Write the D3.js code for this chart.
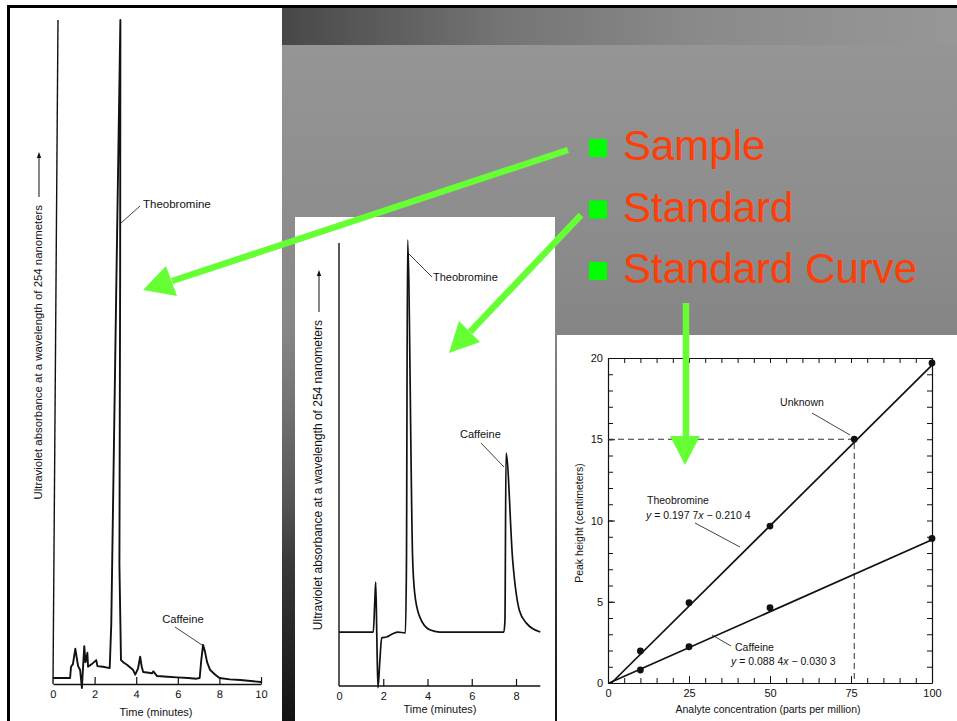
<!DOCTYPE html>
<html>
<head>
<meta charset="utf-8">
<script src="https://cdn.jsdelivr.net/npm/d3@7"></script>
<style>
    body { margin: 0; background: #fff; }
    svg { display: block; }
    text { font-family: "Liberation Sans", Arial, sans-serif; }
</style>
</head>
<body>
<div id="slide"></div>
<script>

// sample chromatogram (left panel), time in minutes, absorbance in relative units
var sampleTime = [0, 0.82, 0.86, 0.95, 1.06, 1.2, 1.3, 1.39, 1.44, 1.49, 1.55, 1.59, 1.64, 1.68, 1.86, 2.07, 2.13, 2.4, 2.72,
    2.78, 2.9, 3.0, 3.08, 3.15, 3.26, 3.4, 3.55, 3.85, 3.95, 4.08, 4.18, 4.26, 4.33, 4.6, 4.75, 4.82, 5.0, 5.5, 5.95, 6.5, 6.9,
    7.05, 7.12, 7.2, 7.3, 7.4, 7.55, 7.8, 8.0, 8.5, 9.0, 10.0];
var sampleAbs = [0.9, 0.9, 2.6, 3.0, 5.3, 2.7, 2.1, -0.6, 2.6, 5.7, 3.3, 3.6, 4.7, 2.6, 3.0, 3.6, 2.7, 2.6, 2.4,
    9.0, 60, 100, 62, 18, 3.6, 3.2, 2.9, 2.1, 1.4, 2.3, 4.1, 2.6, 1.8, 1.7, 1.6, 1.9, 1.2, 1.1, 1.0, 0.9, 0.8,
    0.9, 3.6, 5.9, 4.8, 3.3, 2.1, 1.4, 0.9, 0.7, 0.6, 0.3];
var sampleTicks = [0, 2, 4, 6, 8, 10];

// standard chromatogram (middle panel)
var standardTime = [0, 1.55, 1.62, 1.66, 1.71, 1.76, 1.85, 1.93, 2.15, 2.43, 2.66, 3.0, 3.05, 3.1, 3.33, 3.42, 3.65, 4.1, 4.55,
    7.45, 7.5, 7.55, 7.85, 8.15, 8.47, 9.1];
var standardAbs = [12.1, 12.1, 19.3, 23.3, 11.0, -0.4, 6.0, 10.8, 11.0, 11.7, 12.1, 11.9, 28.2, 100, 28.2, 20.9, 15.5, 12.6, 12.1,
    12.1, 14.6, 52.2, 28.2, 17.0, 14.1, 12.1];
var standardTicks = [0, 2, 4, 6, 8];

// standard curve (right panel), concentration in ppm, peak height in cm
var standardConc = [10, 25, 50, 100];
var theobromineHeight = [1.97, 4.94, 9.66, 19.7];
var caffeineHeight = [0.8, 2.23, 4.63, 8.9];
var theobromineFit = [0.1977, -0.2104];
var caffeineFit = [0.0884, -0.0303];
var unknownPoint = [76, 15];
var concTicks = [0, 25, 50, 75, 100];
var heightTicks = [0, 5, 10, 15, 20];

// slide bullets
var bullets = ["Sample", "Standard", "Standard Curve"];

var W = 957, H = 721;

var svg = d3.select("#slide")
    .append("svg")
    .attr("width", W)
    .attr("height", H);

var defs = svg.append("defs");

var bg = defs.append("linearGradient")
    .attr("id", "bgGrad")
    .attr("gradientUnits", "userSpaceOnUse")
    .attr("x1", 0).attr("y1", 45).attr("x2", 0).attr("y2", 721);
[[0, "#959595"], [0.254, "#8d8d8d"], [0.43, "#858585"], [0.525, "#747474"], [0.673, "#565656"], [0.762, "#3a3a3a"], [1, "#121212"]]
    .forEach(function (s) { bg.append("stop").attr("offset", s[0]).attr("stop-color", s[1]); });

var bar = defs.append("linearGradient")
    .attr("id", "barGrad")
    .attr("gradientUnits", "userSpaceOnUse")
    .attr("x1", 280).attr("y1", 0).attr("x2", 957).attr("y2", 0);
[[0, "#474747"], [0.325, "#747474"], [0.62, "#8a8a8a"], [1, "#979797"]]
    .forEach(function (s) { bar.append("stop").attr("offset", s[0]).attr("stop-color", s[1]); });

// slide frame and panels
svg.append("rect").attr("x", 7).attr("y", 5).attr("width", W - 7).attr("height", H - 5).attr("fill", "#000");
svg.append("rect").attr("x", 280).attr("y", 45).attr("width", W - 280).attr("height", H - 45).attr("fill", "url(#bgGrad)");
svg.append("rect").attr("x", 280).attr("y", 8).attr("width", W - 280).attr("height", 37).attr("fill", "url(#barGrad)");
svg.append("rect").attr("x", 10).attr("y", 8).attr("width", 272).attr("height", H - 8).attr("fill", "#fff");
svg.append("rect").attr("x", 295).attr("y", 217).attr("width", 260).attr("height", H - 217).attr("fill", "#fff");
svg.append("rect").attr("x", 557).attr("y", 335).attr("width", W - 557).attr("height", H - 335).attr("fill", "#fff");

var ink = "#111";

function yLabel(xb, yEnd, arrowTop, size) {
    // rotated axis title with its little arrow
    svg.append("text")
        .attr("transform", "translate(" + xb + "," + yEnd + ") rotate(-90)")
        .attr("text-anchor", "end")
        .attr("font-size", size)
        .attr("fill", ink)
        .text("Ultraviolet absorbance at a wavelength of 254 nanometers");
    var ax = xb - 3;
    svg.append("line")
        .attr("x1", ax).attr("y1", yEnd - 8)
        .attr("x2", ax).attr("y2", arrowTop + 4)
        .attr("stroke", ink).attr("stroke-width", 1);
    svg.append("path")
        .attr("d", "M" + ax + "," + arrowTop + "L" + (ax - 2.2) + "," + (arrowTop + 6) + "L" + (ax + 2.2) + "," + (arrowTop + 6) + "Z")
        .attr("fill", ink);
}

function leader(x1, y1, x2, y2) {
    svg.append("line")
        .attr("x1", x1).attr("y1", y1).attr("x2", x2).attr("y2", y2)
        .attr("stroke", ink).attr("stroke-width", 0.8);
}

function label(x, y, txt, size, anchor) {
    return svg.append("text")
        .attr("x", x).attr("y", y)
        .attr("font-size", size)
        .attr("text-anchor", anchor || "start")
        .attr("fill", ink)
        .text(txt);
}

function styleAxis(g) {
    g.select(".domain").attr("stroke", ink).attr("stroke-width", 1.4);
    g.selectAll(".tick line").attr("stroke", ink).attr("stroke-width", 1.2);
    g.selectAll(".tick text").attr("fill", ink).attr("font-size", 11)
        .attr("font-family", "'Liberation Sans', Arial, sans-serif");
}

// ---------- left: sample chromatogram ----------
var xL = d3.scaleLinear().domain([0, 10]).range([53, 261]);
var yL = d3.scaleLinear().domain([0, 100]).range([684, 20]);

// the scanned figure leans a little to the right
var gL = svg.append("g")
    .attr("transform", "translate(0,684) skewX(-0.43) translate(0,-684)");

var axL = gL.append("g")
    .attr("transform", "translate(0,684)")
    .call(d3.axisBottom(xL).tickValues(sampleTicks).tickSize(-7).tickSizeOuter(0).tickPadding(6));
styleAxis(axL);
axL.selectAll(".tick").filter(function (d) { return d === 0; }).select("line").remove();

gL.append("line")
    .attr("x1", xL(0)).attr("y1", yL(0))
    .attr("x2", xL(0)).attr("y2", yL(100))
    .attr("stroke", ink).attr("stroke-width", 1.4);

gL.append("path")
    .datum(d3.zip(sampleTime, sampleAbs))
    .attr("fill", "none")
    .attr("stroke", ink)
    .attr("stroke-width", 1.9)
    .attr("stroke-linejoin", "round")
    .attr("d", d3.line()
        .x(function (d) { return xL(d[0]); })
        .y(function (d) { return yL(d[1]); }));

label(156, 716, "Time (minutes)", 11, "middle");
yLabel(42, 205, 152, 11.4);
label(143, 208, "Theobromine", 11.5);
leader(140, 206, 121, 223);
label(183, 623, "Caffeine", 11.2, "middle");
leader(175, 627, 202, 645);

// ---------- middle: standard chromatogram ----------
var xM = d3.scaleLinear().domain([0, 8]).range([339, 516]);
var yM = d3.scaleLinear().domain([0, 100]).range([686, 240]);

var axM = svg.append("g")
    .attr("transform", "translate(0,686)")
    .call(d3.axisBottom(xM).tickValues(standardTicks).tickSize(-7).tickSizeOuter(0).tickPadding(6));
styleAxis(axM);
axM.select(".domain").attr("d", "M" + xM(0) + ",0H" + xM(9.1));
axM.selectAll(".tick").filter(function (d) { return d === 0; }).select("line").remove();

svg.append("line")
    .attr("x1", xM(0)).attr("y1", yM(0))
    .attr("x2", xM(0)).attr("y2", yM(99.3))
    .attr("stroke", ink).attr("stroke-width", 1.4);

svg.append("path")
    .datum(d3.zip(standardTime, standardAbs))
    .attr("fill", "none")
    .attr("stroke", ink)
    .attr("stroke-width", 1.7)
    .attr("stroke-linejoin", "round")
    .attr("d", d3.line()
        .x(function (d) { return xM(d[0]); })
        .y(function (d) { return yM(d[1]); })
        .curve(d3.curveMonotoneX));

label(440, 713, "Time (minutes)", 11, "middle");
yLabel(322, 320, 270, 12);
label(433, 281, "Theobromine", 11);
leader(432, 277, 408, 253);
label(460, 438, "Caffeine", 11);
leader(481, 443, 504, 467);

// ---------- right: standard curve ----------
var xR = d3.scaleLinear().domain([0, 100]).range([608, 932]);
var yR = d3.scaleLinear().domain([0, 20]).range([683, 358]);

function minorAxis(axis, tr, n, size) {
    var g = svg.append("g")
        .attr("transform", tr)
        .call(axis.ticks(n).tickSize(size).tickSizeOuter(0).tickFormat(""));
    g.select(".domain").attr("stroke", ink).attr("stroke-width", 1.2);
    g.selectAll(".tick line").attr("stroke", ink).attr("stroke-width", 1);
    return g;
}

minorAxis(d3.axisLeft(yR), "translate(" + xR(0) + ",0)", 20, -5);
minorAxis(d3.axisRight(yR), "translate(" + xR(100) + ",0)", 20, -5);
minorAxis(d3.axisBottom(xR), "translate(0," + yR(0) + ")", 20, -5);
minorAxis(d3.axisTop(xR), "translate(0," + yR(20) + ")", 20, -5);

var labY = svg.append("g")
    .attr("transform", "translate(" + xR(0) + ",0)")
    .call(d3.axisLeft(yR).tickValues(heightTicks).tickSize(-7).tickPadding(5));
styleAxis(labY);
labY.select(".domain").remove();
labY.selectAll(".tick line").attr("stroke-width", 1);

var labX = svg.append("g")
    .attr("transform", "translate(0," + yR(0) + ")")
    .call(d3.axisBottom(xR).tickValues(concTicks).tickSize(-7).tickPadding(6));
styleAxis(labX);
labX.select(".domain").remove();
labX.selectAll(".tick line").attr("stroke-width", 1);

// unknown read-off lines
svg.append("path")
    .attr("d", "M" + xR(0) + "," + yR(unknownPoint[1]) + "H" + xR(unknownPoint[0]) + "V" + yR(0))
    .attr("fill", "none")
    .attr("stroke", "#333")
    .attr("stroke-width", 1)
    .attr("stroke-dasharray", "6,4");

function fitLine(fit) {
    var x0 = -fit[1] / fit[0];
    svg.append("line")
        .attr("x1", xR(x0)).attr("y1", yR(0))
        .attr("x2", xR(100)).attr("y2", yR(fit[0] * 100 + fit[1]))
        .attr("stroke", ink).attr("stroke-width", 1.7);
}
fitLine(theobromineFit);
fitLine(caffeineFit);

function dots(values) {
    svg.append("g")
        .selectAll("circle")
        .data(d3.zip(standardConc, values))
        .join("circle")
        .attr("cx", function (d) { return xR(d[0]); })
        .attr("cy", function (d) { return yR(d[1]); })
        .attr("r", 3.4)
        .attr("fill", ink);
}
dots(theobromineHeight);
dots(caffeineHeight);

svg.append("circle")
    .attr("cx", xR(unknownPoint[0]))
    .attr("cy", yR(unknownPoint[1]))
    .attr("r", 3.4)
    .attr("fill", ink);

function equation(x, y, fit) {
    var t = svg.append("text").attr("x", x).attr("y", y).attr("font-size", 10.5).attr("fill", ink);
    var a = fit[0].toFixed(4), b = Math.abs(fit[1]).toFixed(4);
    t.append("tspan").attr("font-style", "italic").text("y");
    t.append("tspan").text(" = " + a.slice(0, 5) + " " + a.slice(5));
    t.append("tspan").attr("font-style", "italic").text("x");
    t.append("tspan").text(" \u2212 " + b.slice(0, 5) + " " + b.slice(5));
}

label(802, 406, "Unknown", 10.5, "middle");
leader(812, 413, 850, 435);
label(647, 504, "Theobromine", 10.5);
equation(646, 519, theobromineFit);
leader(695, 523, 740, 547);
label(735, 651, "Caffeine", 10.5);
equation(731, 665, caffeineFit);
leader(731, 646, 712, 635);

svg.append("text")
    .attr("transform", "translate(583,523) rotate(-90)")
    .attr("text-anchor", "middle")
    .attr("font-size", 10.5)
    .attr("fill", ink)
    .text("Peak height (centimeters)");
label(768, 713, "Analyte concentration (parts per million)", 10.5, "middle");

// ---------- bullets ----------
var bulletY = d3.scalePoint().domain(bullets).range([160, 283]);

svg.append("g")
    .selectAll("rect")
    .data(bullets)
    .join("rect")
    .attr("x", 589)
    .attr("y", function (d) { return bulletY(d) - 21; })
    .attr("width", 18)
    .attr("height", 18)
    .attr("fill", "#00ff00");

svg.append("g")
    .selectAll("text")
    .data(bullets)
    .join("text")
    .attr("x", 623)
    .attr("y", function (d) { return bulletY(d); })
    .attr("font-size", 42)
    .attr("fill", "#ff3d06")
    .text(function (d) { return d; });

// ---------- green pointer arrows ----------
var arrowGreen = "#66ff33";
function arrow(x1, y1, bx, by, head) {
    svg.append("line")
        .attr("x1", x1).attr("y1", y1).attr("x2", bx).attr("y2", by)
        .attr("stroke", arrowGreen).attr("stroke-width", 6.5);
    svg.append("path")
        .attr("d", "M" + head.map(function (p) { return p.join(","); }).join("L") + "Z")
        .attr("fill", arrowGreen);
}
arrow(568, 150, 172, 281, [[143, 290], [166, 266], [177, 296]]);
arrow(581, 215, 470, 332, [[449, 353], [459, 321], [480, 342]]);
arrow(686, 303, 686, 438, [[685, 465], [670, 436], [700, 436]]);

</script>
</body>
</html>
